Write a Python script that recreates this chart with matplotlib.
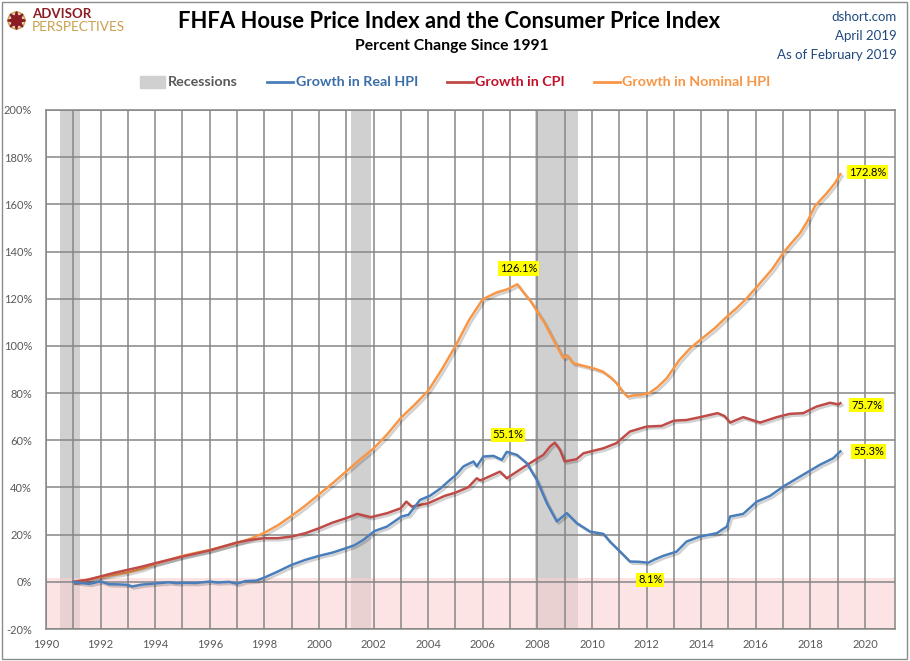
import matplotlib
matplotlib.use("Agg")
import matplotlib.pyplot as plt
import matplotlib.patheffects as pe
from matplotlib.lines import Line2D
from matplotlib.patches import Rectangle

plt.rcParams["font.family"] = ["Lato", "DejaVu Sans"]

# ---- data (percent change since Jan 1991) ----
nominal_years = [1991.0, 1991.5, 1992.0, 1992.5, 1993.0, 1993.5, 1994.0, 1994.5,
                 1995.0, 1995.5, 1996.0, 1996.5, 1997.0, 1997.5, 1998.0, 1998.5,
                 1999.0, 1999.5, 2000.0, 2000.5, 2001.0, 2001.5, 2002.0, 2002.5,
                 2003.0, 2003.5, 2004.0, 2004.5, 2005.0, 2005.5, 2006.0, 2006.5,
                 2006.9, 2007.27, 2007.5, 2007.75, 2008.0, 2008.25, 2008.5, 2008.75,
                 2008.95, 2009.1, 2009.3, 2009.7, 2010.05, 2010.4, 2010.7, 2010.9,
                 2011.1, 2011.3, 2011.5, 2011.75, 2012.1, 2012.4, 2012.74, 2013.2,
                 2013.6, 2013.96, 2014.5, 2014.94, 2015.3, 2015.67, 2016.16, 2016.6,
                 2017.0, 2017.3, 2017.62, 2017.9, 2018.17, 2018.6, 2018.9, 2019.1]
nominal_hpi = [0.0, 0.8, 2.0, 3.0, 4.0, 5.5, 7.6, 9.3,
               11.0, 12.3, 13.5, 15.0, 16.5, 18.3, 20.8, 24.0,
               28.0, 32.3, 37.0, 41.8, 46.8, 51.8, 56.5, 62.5,
               69.5, 75.0, 81.0, 90.0, 100.0, 111.0, 119.8, 122.6,
               124.0, 126.1, 122.5, 119.0, 114.5, 110.0, 104.5, 99.0,
               94.8, 96.0, 92.7, 91.5, 90.5, 89.1, 86.5, 84.2,
               81.0, 78.5, 79.0, 79.2, 80.0, 82.5, 86.3, 94.0,
               99.0, 102.5, 107.5, 112.4, 116.0, 120.2, 126.6, 132.5,
               139.3, 143.5, 147.7, 153.0, 159.3, 164.7, 169.0, 172.8]

real_years = [1991.0, 1991.3, 1991.6, 1992.0, 1992.3, 1992.7, 1993.0, 1993.15,
              1993.5, 1994.0, 1994.5, 1994.8, 1995.0, 1995.5, 1996.0, 1996.3,
              1996.7, 1997.0, 1997.3, 1997.7, 1998.0, 1998.5, 1999.0, 1999.5,
              2000.0, 2000.5, 2001.0, 2001.3, 2001.63, 2002.03, 2002.49, 2003.03,
              2003.28, 2003.7, 2004.07, 2004.44, 2004.8, 2005.02, 2005.29, 2005.66,
              2005.78, 2006.02, 2006.39, 2006.7, 2006.88, 2007.25, 2007.61, 2007.98,
              2008.35, 2008.71, 2009.08, 2009.44, 2009.93, 2010.42, 2010.66, 2010.9,
              2011.39, 2011.7, 2012.06, 2012.3, 2012.61, 2013.1, 2013.47, 2013.96,
              2014.57, 2014.94, 2015.06, 2015.54, 2016.04, 2016.52, 2017.01, 2017.62,
              2018.35, 2018.84, 2019.1]
real_hpi = [0.0, -0.5, -0.9, 0.2, -1.0, -1.1, -1.3, -2.0,
            -1.2, -0.7, -0.2, -0.6, -0.4, -0.5, 0.1, -0.3,
            0.0, -0.8, 0.3, 0.5, 1.8, 4.4, 7.2, 9.3,
            11.0, 12.4, 14.3, 15.5, 17.8, 21.5, 23.4, 27.7,
            28.4, 34.7, 36.5, 39.5, 43.2, 45.3, 48.9, 51.0,
            48.9, 53.1, 53.4, 51.7, 55.1, 53.8, 50.3, 43.2,
            33.3, 25.6, 29.1, 24.9, 21.3, 20.3, 17.0, 14.3,
            8.6, 8.5, 8.1, 9.5, 11.0, 12.8, 17.1, 19.2,
            20.6, 23.4, 27.7, 28.8, 34.0, 36.4, 40.4, 44.6,
            49.6, 52.4, 55.3]

cpi_years = [1991.0, 1991.5, 1992.0, 1992.5, 1993.0, 1993.5, 1994.0, 1994.5,
             1995.0, 1995.5, 1996.0, 1996.5, 1997.0, 1997.5, 1998.0, 1998.5,
             1999.0, 1999.5, 2000.0, 2000.5, 2001.0, 2001.4, 2001.9, 2002.5,
             2003.0, 2003.2, 2003.4, 2004.0, 2004.6, 2005.0, 2005.47, 2005.78,
             2005.9, 2006.02, 2006.63, 2006.88, 2007.25, 2007.73, 2008.22, 2008.46,
             2008.64, 2008.83, 2009.0, 2009.44, 2009.69, 2010.42, 2010.9, 2011.39,
             2012.0, 2012.55, 2013.0, 2013.47, 2013.96, 2014.6, 2014.85, 2015.06,
             2015.54, 2016.16, 2016.77, 2017.25, 2017.74, 2018.23, 2018.72, 2019.03,
             2019.1]
cpi = [0.0, 0.8, 2.3, 3.8, 5.1, 6.4, 7.9, 9.3,
       10.7, 12.0, 13.3, 15.0, 16.7, 17.8, 18.5, 18.5,
       19.2, 20.6, 22.7, 25.1, 27.0, 28.8, 27.4, 29.1,
       31.2, 34.0, 31.9, 33.3, 36.4, 37.8, 40.1, 43.9,
       43.0, 43.5, 46.7, 43.9, 46.7, 50.3, 53.8, 57.3,
       59.0, 55.9, 51.0, 52.0, 54.5, 56.6, 58.8, 63.7,
       65.8, 66.1, 68.3, 68.6, 69.8, 71.5, 70.3, 67.5,
       69.8, 67.5, 69.8, 71.2, 71.5, 74.3, 75.9, 75.2,
       75.7]

recession_starts = [1990.5, 2001.17, 2007.92]
recession_ends = [1991.25, 2001.92, 2009.5]

blue = "#4a7ebb"
red = "#be4b48"
orange = "#f79646"
grid_gray = "#868686"
label_gray = "#595959"

fig = plt.figure(figsize=(9.1, 6.61), dpi=100)
ax = fig.add_axes([46 / 910, 1 - 629 / 661, 849 / 910, 519 / 661])

for x0, x1 in zip(recession_starts, recession_ends):
    ax.axvspan(x0, x1, color="#d0d0d0", lw=0, zorder=0.2)
ax.axhspan(-20, 1.5, color="#fcd2d2", alpha=0.6, lw=0, zorder=0.3)

shadow = [pe.SimpleLineShadow(offset=(1.5, -1.5), shadow_color="k", alpha=0.18),
          pe.Normal()]
ax.plot(nominal_years, nominal_hpi, color=orange, lw=1.8, path_effects=shadow, zorder=3)
ax.plot(cpi_years, cpi, color=red, lw=1.8, path_effects=shadow, zorder=3)
ax.plot(real_years, real_hpi, color=blue, lw=1.8, path_effects=shadow, zorder=4)

ax.set_xlim(1990, 2021.1)
ax.set_ylim(-20, 200)
ax.set_xticks(range(1990, 2021, 2))
ax.set_xticks(range(1991, 2021, 2), minor=True)
ax.set_yticks(range(-20, 201, 20))
ax.set_yticklabels([f"{v}%" for v in range(-20, 201, 20)])
ax.set_axisbelow(True)
ax.grid(which="both", axis="x", color=grid_gray, lw=1.1)
ax.grid(axis="y", color=grid_gray, lw=1.1)
ax.tick_params(which="both", length=0, labelsize=8, labelcolor=label_gray)
ax.tick_params(axis="x", pad=7)
ax.tick_params(axis="y", pad=10)
for s in ax.spines.values():
    s.set_color(grid_gray)
    s.set_linewidth(1.1)

# value call-outs
box = dict(boxstyle="square,pad=0.15", fc="#ffff00", ec="none")


def callout(x, y, dx, dy):
    ax.annotate(f"{y:.1f}%", xy=(x, y), xytext=(dx, dy), textcoords="offset pixels",
                ha="center", va="center", fontsize=8, color="black", bbox=box, zorder=6)


def extreme(years, values, lo, hi, pick):
    pts = [(v, y) for y, v in zip(years, values) if lo <= y <= hi]
    v, y = pick(pts)
    return y, v


callout(nominal_years[-1], nominal_hpi[-1], 27, 2)
callout(cpi_years[-1], cpi[-1], 26, -2)
callout(real_years[-1], real_hpi[-1], 28, 0)
callout(*extreme(nominal_years, nominal_hpi, 2004, 2010, max), 1, 16)
callout(*extreme(real_years, real_hpi, 2004, 2010, max), 1, 17)
callout(*extreme(real_years, real_hpi, 2010, 2014, min), 2, -17)

# titles
fig.text(0.494, 1 - 21 / 661, "FHFA House Price Index and the Consumer Price Index",
         ha="center", va="center", fontsize=15.8, fontweight="bold", color="black")
fig.text(0.497, 1 - 46 / 661, "Percent Change Since 1991", ha="center", va="center",
         fontsize=11.3, fontweight="bold", color="black")
for k, t in enumerate(["dshort.com", "April 2019", "As of February 2019"]):
    fig.text(897 / 910, 1 - (17 + k * 19) / 661, t, ha="right", va="center",
             fontsize=9.5, color="#1f497d")

# logo
fig.text(32 / 910, 1 - 14 / 661, "ADVISOR", ha="left", va="center", fontsize=9.5,
         fontweight="bold", color="#8b1c24")
fig.text(32 / 910, 1 - 27 / 661, "PERSPECTIVES", ha="left", va="center", fontsize=9.8,
         color="#c9a04c")
fig.add_artist(Line2D([16 / 910], [1 - 20 / 661], marker="o", ms=12, mfc="none",
                      mec="#c9a04c", mew=1.2, transform=fig.transFigure))
fig.add_artist(Line2D([16 / 910], [1 - 20 / 661], marker=(8, 1, 0), ms=13,
                      color="#8b1c24", transform=fig.transFigure))

# legend row
ly = 1 - 82 / 661
fig.add_artist(Rectangle((140 / 910, ly - 6 / 661), 25 / 910, 12 / 661, color="#d0d0d0",
                         transform=fig.transFigure))
fig.text(168 / 910, ly, "Recessions", ha="left", va="center", fontsize=10.3,
         fontweight="bold", color=label_gray)
entries = [(267, 293, 296, "Growth in Real HPI", blue, "#3a6ea8"),
           (447, 473, 475, "Growth in CPI", red, "#c0102a"),
           (594, 620, 622, "Growth in Nominal HPI", orange, orange)]
for x0, x1, xt, label, lc, tc in entries:
    fig.add_artist(Line2D([x0 / 910, x1 / 910], [ly, ly], color=lc, lw=2,
                          transform=fig.transFigure))
    fig.text(xt / 910, ly, label, ha="left", va="center", fontsize=10.3,
             fontweight="bold", color=tc)

fig.add_artist(Rectangle((0.002, 0.003), 0.995, 0.994, fill=False, ec="#8c8c8c", lw=1,
                         transform=fig.transFigure))

fig.savefig("out.png", dpi=100, facecolor="white")
